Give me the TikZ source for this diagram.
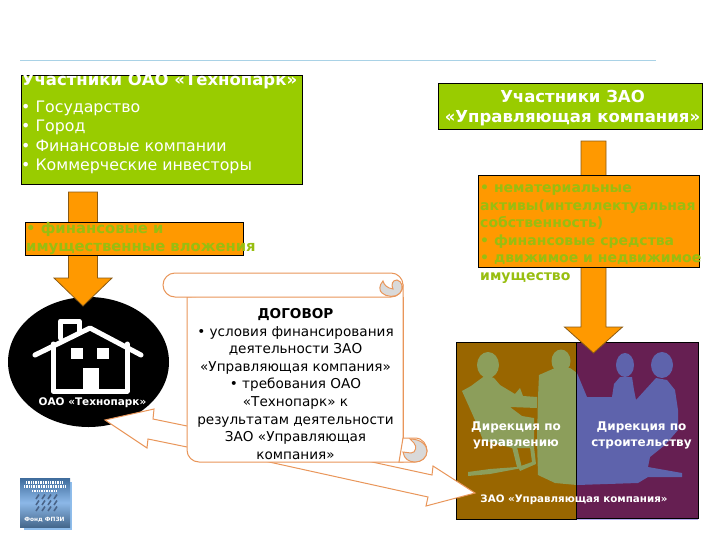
\documentclass[tikz,border=0pt]{standalone}
\usepackage{fontspec}
\setmainfont{DejaVu Sans}
\usetikzlibrary{arrows.meta}
\usetikzlibrary{shapes.geometric}

\definecolor{leafgreen}{HTML}{99CC00}
\definecolor{amber}{HTML}{FF9900}
\definecolor{amberline}{HTML}{8A5A14}
\definecolor{scrollline}{HTML}{E9965A}
\definecolor{curlgrey}{HTML}{D9D9D9}
\definecolor{ochre}{HTML}{996600}
\definecolor{plum}{HTML}{661F52}
\definecolor{sagefig}{HTML}{8C9E5B}
\definecolor{bluefig}{HTML}{5E63AC}
\definecolor{ruleblue}{HTML}{A9D2E6}
\definecolor{lawntone}{HTML}{98BE10}
\definecolor{badgetop}{HTML}{3F6C9C}
\definecolor{badgemid}{HTML}{8CB8E8}
\definecolor{badgelow}{HTML}{45688C}
\definecolor{badgeshadow}{HTML}{8FBDEB}
\definecolor{badgetick}{HTML}{4A6488}
\definecolor{lavender}{HTML}{B4ACEC}

\tikzset{
    greenbox/.style={draw=black, fill=leafgreen, line width=0.9pt, anchor=north west, inner sep=0pt},
    amberbox/.style={draw=black, fill=amber, line width=0.9pt, anchor=north west, inner sep=0pt},
    amberfill/.style={draw=amberline, fill=amber, line width=0.8pt, line join=miter},
    roomrect/.style={draw=black, line width=0.9pt},
    openarrow/.style={draw=scrollline, fill=white, line width=1pt, line join=miter},
    scrollpart/.style={draw=scrollline, fill=white, line width=1pt},
    curlpart/.style={draw=scrollline, fill=curlgrey, line width=1pt},
    housepen/.style={draw=white, line width=5pt, line cap=round, line join=round},
    whitelabel/.style={text=white, font=\bfseries\fontsize{10.3}{15}\selectfont, align=center},
    lawntext/.style={text=lawntone, font=\bfseries\fontsize{14.8}{18}\selectfont, align=left, anchor=north west, inner sep=0pt}
}

% shaft and head of a thick orange arrow, top to tip
\newcommand{\blockdown}[5]{
    \draw [amberfill] ([xshift=-#3pt]#1) -- ([xshift=-#3pt,yshift=#5pt]#2)
        -- ([xshift=-#4pt,yshift=#5pt]#2) -- (#2) -- ([xshift=#4pt,yshift=#5pt]#2)
        -- ([xshift=#3pt,yshift=#5pt]#2) -- ([xshift=#3pt]#1) -- cycle;
}
% the four people at the table
\newcommand{\crewfill}{
    \fill (488,365) ellipse[x radius=11, y radius=13];
    \fill (561,361) ellipse[x radius=9.5, y radius=11.5];
    \fill (625,365) ellipse[x radius=9, y radius=12];
    \fill (662,365) ellipse[x radius=11, y radius=13];
    % seated man and chair
    \fill (462,391) -- (471,386) -- (475,383) -- (486,375) -- (494,378) -- (500,385) -- (515,394)
        -- (520,388) -- (523,396) -- (537,397) -- (537,408) -- (510,407) -- (522,416) -- (534,418)
        -- (534,448) -- (512,448) -- (483,440) -- (475,420) -- cycle;
    \fill (512,447) -- (517,447) -- (522,468) -- (490,474) -- (468,476) -- (468,472) -- (490,469) -- (517,467) -- cycle;
    \fill (530,447) -- (534,447) -- (536,464) -- (520,471) -- (518,467) -- (532,462) -- cycle;
    % the other three and the table
    \fill (538,397) -- (539,375) -- (555,368) -- (570,368) -- (577,373) -- (587,397)
        -- (612,397) -- (614,384) -- (620,377) -- (632,377) -- (634,390) -- (636,400) -- (656,378)
        -- (667,380) -- (675,390) -- (678,410) -- (678,430) -- (665,445) -- (650,457) -- (648,467)
        -- (682,473) -- (682,477) -- (648,477) -- (638,483) -- (577,485) -- (555,483) -- (538,475)
        -- (537,440) -- cycle;
}

\begin{document}
\begin{tikzpicture}[x=1pt, y=-1pt]
    \useasboundingbox (0,0) rectangle (728,546);
    \draw [ruleblue, line width=0.8pt] (20,60) -- (656,60);

    % left column
    \node [greenbox, minimum width=281pt, minimum height=109pt] (parkbox) at (20.5,75) {};
    \node [text=white, font=\bfseries\fontsize{16.5}{18}\selectfont, inner sep=0pt] (parktitle) at (159.5,81) {Участники ОАО «Технопарк»};
    \node [text=white, font=\fontsize{15.8}{19.5}\selectfont, align=left, anchor=north west, inner sep=0pt] (parklist) at (21,100.5)
        {• Государство\\• Город\\• Финансовые компании\\• Коммерческие инвесторы};

    \coordinate (PT) at (83,192);
    \coordinate (PB) at (83,306);
    \node [fill=black, ellipse, minimum width=161pt, minimum height=130pt, inner sep=0pt] (parkoval) at (88.5,362) {};
    \blockdown{PT}{PB}{14.5}{29}{28}
    \node [amberbox, minimum width=218pt, minimum height=33pt] (parkinput) at (25,222) {};
    \node [lawntext] (parkinputtext) at (26,222) {• финансовые и\\имущественные вложения};

    % house
    \draw [housepen] (60.5,338) -- (60.5,321) -- (79,321) -- (79,331);
    \draw [housepen] (35,355) -- (90,328) -- (141,355);
    \draw [housepen] (53,344) -- (53,391) -- (127,391) -- (127,344);
    \fill [white] (71,348) rectangle (83,359);
    \fill [white] (97,348) rectangle (109,359);
    \fill [white] (83,368) rectangle (99,391);
    \node [whitelabel, font=\bfseries\fontsize{10.5}{15}\selectfont] (parklabel) at (92.5,403) {ОАО «Технопарк»};

    % right column
    \node [greenbox, minimum width=264pt, minimum height=46pt] (firmbox) at (438,83) {};
    \node [text=white, font=\bfseries\fontsize{16.5}{20}\selectfont, align=center, inner sep=0pt] (firmtitle) at (572.5,108)
        {Участники ЗАО\\«Управляющая компания»};

    \fill [ochre] (456,342) rectangle (576,519);
    \fill [plum] (576,342) rectangle (698,518);
    \begin{scope}[sagefig]
        \clip (456,342) rectangle (576,519);
        \crewfill
    \end{scope}
    \begin{scope}[bluefig]
        \clip (576,342) rectangle (698,518);
        \crewfill
    \end{scope}
    \draw [roomrect] (576,342) rectangle (698,518);
    \draw [lavender, line width=1pt] (577,519.5) -- (698,519.5);
    \draw [roomrect] (456,342) rectangle (576,519);
    \node [whitelabel, font=\bfseries\fontsize{12}{15.5}\selectfont] (rulelabel) at (516,435.5) {Дирекция по\\управлению};
    \node [whitelabel, font=\bfseries\fontsize{12}{15.5}\selectfont] (buildlabel) at (641.5,435.5) {Дирекция по\\строительству};
    \node [whitelabel] (firmlabel) at (574,500) {ЗАО «Управляющая компания»};

    \coordinate (FT) at (593.5,141);
    \coordinate (FB) at (593.5,353);
    \blockdown{FT}{FB}{12.5}{29}{26}
    \node [amberbox, minimum width=221pt, minimum height=92pt] (firminput) at (478,175) {};
    \node [lawntext, font=\bfseries\fontsize{14}{17.6}\selectfont] (firminputtext) at (480,184.5)
        {• нематериальные\\активы(интеллектуальная\\собственность)\\• финансовые средства\\• движимое и недвижимое\\имущество};

    % contract scroll and its two open arrows
    \draw [openarrow] (187,426) -- (153,419) -- (154,409) -- (105,420) -- (147,448) -- (148,439) -- (187,447);
    \draw [openarrow] (363,460) -- (432,475) -- (433,466) -- (475,493) -- (426,506) -- (428,497) -- (260,460);

    \draw [scrollpart] (403,285) -- (403,462) -- (199,462) arc[start angle=90, end angle=180, radius=12] -- (187,297) -- cycle;
    \draw [scrollpart, rounded corners=12pt] (163,273) rectangle (403,297);
    \draw [scrollpart] (403,438) -- (415,438) .. controls (423,438) and (427,445) .. (427,451)
        .. controls (427,458) and (421,462) .. (415,462) -- (399,462) -- cycle;
    \draw [scrollline, line width=1pt] (403,297) -- (403,438);
    \draw [curlpart] (410,439) .. controls (422,439) and (427,446) .. (427,451) .. controls (427,458) and (421,462) .. (415,462)
        .. controls (409,462) and (404,459) .. (403,452) -- (411,453) .. controls (416,453) and (417,446) .. (414,443) -- cycle;
    \draw [curlpart] (383,281) .. controls (379,285) and (379,291) .. (382,293) .. controls (386,297) and (396,298) .. (400,293)
        .. controls (404,288) and (402,281) .. (397,280) .. controls (392,280) and (391,285) .. (393,289)
        .. controls (387,288) and (384,285) .. (383,281) -- cycle;
    \node [text=black, font=\fontsize{13.6}{17.6}\selectfont, align=center, inner sep=0pt] (dealtext) at (295.5,384)
        {{\bfseries ДОГОВОР}\\• условия финансирования\\деятельности ЗАО\\«Управляющая компания»\\• требования ОАО\\«Технопарк» к\\результатам деятельности\\ЗАО «Управляющая\\компания»};

    % fund badge
    \fill [badgeshadow] (24,482) rectangle (72,530);
    \shade [top color=badgetop, bottom color=badgelow, middle color=badgemid] (20,478) rectangle (70,527);
    \draw [white, line width=2.2pt, dash pattern=on 1pt off 0.7pt] (26,482.5) -- (63,482.5);
    \draw [white, line width=2.2pt, dash pattern=on 1pt off 0.7pt] (24,486.5) -- (65,486.5);
    \draw [white, line width=2.2pt, dash pattern=on 1pt off 0.7pt] (32,491) -- (57,491);
    \foreach \tx in {36,42,48,54}
        \foreach \ty in {499,505,511}
            \draw [badgetick, line width=1.6pt] (\tx,\ty) -- ++(3,-4.5);
    \node [text=white, font=\bfseries\fontsize{5.8}{8}\selectfont, inner sep=0pt] (fundname) at (44.5,520) {Фонд ФПЗИ};
\end{tikzpicture}
\end{document}
